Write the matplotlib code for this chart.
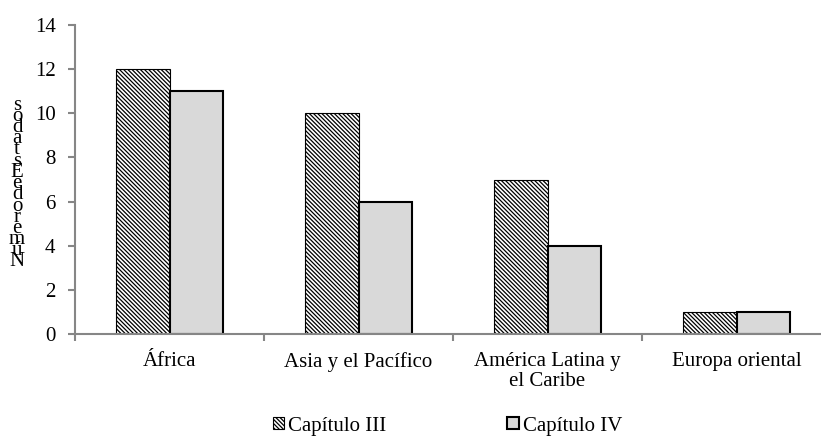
import numpy as np
import matplotlib.pyplot as plt
from matplotlib.patches import Patch

plt.rcParams['font.family'] = ['Liberation Serif', 'DejaVu Serif']
plt.rcParams['hatch.linewidth'] = 0.9

regions = ['África', 'Asia y el Pacífico', 'América Latina y\nel Caribe', 'Europa oriental']
cap_iii = [12, 10, 7, 1]
cap_iv = [11, 6, 4, 1]
y_ticks = [0, 2, 4, 6, 8, 10, 12, 14]
y_label = 'NúmerodeEstados'

spine_col = '#868686'
gray = '#d9d9d9'
fs = 15
hatch = '\\' * 8

fig = plt.figure(figsize=(8.21, 4.37), dpi=100)
ax = fig.add_axes([75 / 821, 103 / 437, 756 / 821, 309 / 437])

x = np.arange(len(regions))
w = 0.285
ax.bar(x - w / 2, cap_iii, width=w, color='white', edgecolor='black',
       linewidth=0.8, hatch=hatch)
ax.bar(x + w / 2, cap_iv, width=w, color=gray, edgecolor='black', linewidth=1.5)

ax.set_xlim(-0.5, len(regions) - 0.5)
ax.set_ylim(0, 14)
ax.set_yticks(y_ticks)

# category boundaries get the tick marks, centers get the labels
ax.set_xticks(np.arange(len(regions)) - 0.5)
ax.set_xticklabels([])
ax.set_xticks(x, minor=True)
ax.set_xticklabels(regions, minor=True, fontsize=fs, linespacing=1.05)
ax.tick_params(axis='x', which='minor', length=0, pad=13)
ax.tick_params(axis='x', which='major', length=5, width=1.5, color=spine_col)
ax.tick_params(axis='y', length=5, width=1.5, color=spine_col, pad=9, labelsize=fs)

for s in ['top', 'right']:
    ax.spines[s].set_visible(False)
for s in ['left', 'bottom']:
    ax.spines[s].set_color(spine_col)
    ax.spines[s].set_linewidth(1.5)

# stacked vertical axis label as in the original
for i, ch in enumerate(y_label):
    fig.text(17 / 821, 1 - (262 - i * 11.2) / 437, ch, ha='center', va='center', fontsize=fs)

handles = [Patch(facecolor='white', edgecolor='black', hatch=hatch, linewidth=0.8),
           Patch(facecolor=gray, edgecolor='black', linewidth=1.5)]
fig.legend(handles, ['Capítulo III', 'Capítulo IV'], loc='center',
           bbox_to_anchor=(0.545, 1 - 426 / 437), ncol=2, frameon=False, fontsize=fs,
           handlelength=0.55, handleheight=0.55, handletextpad=0.2, columnspacing=5.8)

fig.savefig('out.png', dpi=100)
